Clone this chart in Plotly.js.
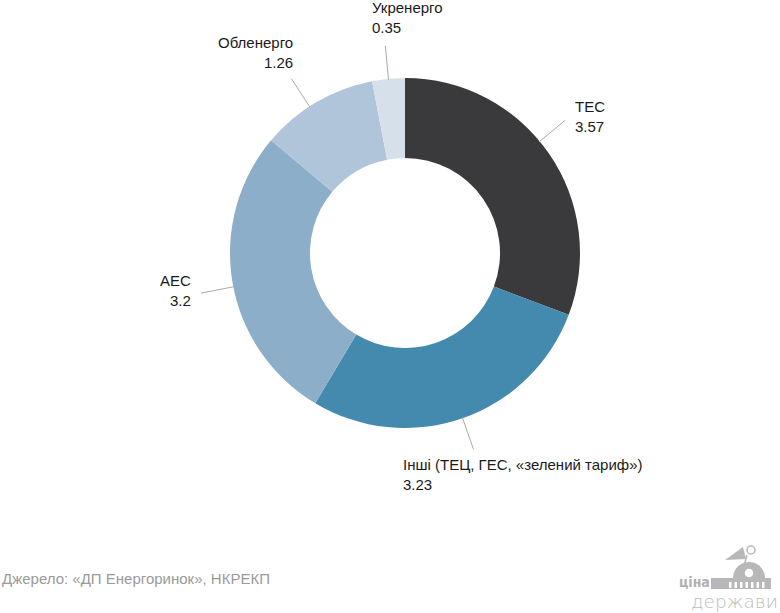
<!DOCTYPE html>
<html><head><meta charset="utf-8">
<script src="https://cdn.plot.ly/plotly-3.0.1.min.js"></script>
<style>html,body{margin:0;padding:0;background:#fff}</style>
</head><body><div id="chart" style="width:780px;height:613px"></div>
<script>
const labels = ["ТЕС", "Інші (ТЕЦ, ГЕС, «зелений тариф»)", "АЕС", "Обленерго", "Укренерго"];
const values = [3.57, 3.23, 3.2, 1.26, 0.35];
const colors = ["#3a3a3c", "#438aae", "#8daec8", "#b0c5d9", "#d5e0ea"];
const sourceText = "Джерело: «ДП Енергоринок», НКРЕКП";

const W = 780, H = 613;
const cx = 405, cy = 253, R = 175, holeFrac = 0.543;
const px = x => x / W, py = y => 1 - y / H;

// label layout (styling only)
const nudge = [-5, 0, -1.6, -2.7, 0];
const place = [
  {xa: "left", ya: "middle", dx: 8, dy: -4, align: "left"},
  {xa: "left", ya: "top", dx: -72, dy: 5, align: "left"},
  {xa: "right", ya: "middle", dx: -8, dy: -3, align: "right"},
  {xa: "right", ya: "bottom", dx: 4, dy: -6, align: "right"},
  {xa: "left", ya: "bottom", dx: -15, dy: -8, align: "left"}
];

const total = values.reduce((a, b) => a + b, 0);
const shapes = [], annotations = [];
let cum = 0;
values.forEach((v, i) => {
  const mid = (cum + v / 2) / total * 360 + nudge[i];
  cum += v;
  const a = mid * Math.PI / 180;
  const r1 = R - 1, r2 = R + 33;
  const x1 = cx + r1 * Math.sin(a), y1 = cy - r1 * Math.cos(a);
  const x2 = cx + r2 * Math.sin(a), y2 = cy - r2 * Math.cos(a);
  shapes.push({type: "line", xref: "paper", yref: "paper", x0: px(x1), y0: py(y1), x1: px(x2), y1: py(y2),
    line: {color: "#aaaaaa", width: 1}});
  const p = place[i];
  annotations.push({xref: "paper", yref: "paper", x: px(x2 + p.dx), y: py(y2 + p.dy),
    xanchor: p.xa, yanchor: p.ya, align: p.align, showarrow: false,
    text: labels[i] + "<br>" + values[i],
    font: {family: "Liberation Sans, Arial, sans-serif", size: 15, color: "#1a1a1a"}});
});

annotations.push({xref: "paper", yref: "paper", x: px(0), y: py(578), xanchor: "left", yanchor: "middle",
  showarrow: false, text: sourceText,
  font: {family: "Liberation Sans, Arial, sans-serif", size: 15, color: "#9a9a9a"}});

// logo "ціна держави"
annotations.push({xref: "paper", yref: "paper", x: px(677), y: py(582), xanchor: "left", yanchor: "middle",
  showarrow: false, text: "<b>ціна</b>",
  font: {family: "Liberation Sans Narrow, DejaVu Sans Condensed, Arial Narrow, sans-serif", size: 14, color: "#b0b0b0"}});
annotations.push({xref: "paper", yref: "paper", x: px(689), y: py(601), xanchor: "left", yanchor: "middle",
  showarrow: false, text: "держави",
  font: {family: "DejaVu Sans, sans-serif", weight: 200, size: 18.5, color: "#bcbcbc"}});
function path(pts) { return "M" + pts.map(p => px(p[0]) + "," + py(p[1])).join("L") + "Z"; }
const logoC = "#b8b8b8";
// building base
shapes.push({type: "path", xref: "paper", yref: "paper", path: path([[711,578],[771,578],[771,589],[711,589]]), fillcolor: logoC, line: {width: 0}});
for (let k = 0; k < 7; k++) {
  const x = 729 + k * 5.5;
  shapes.push({type: "rect", xref: "paper", yref: "paper", x0: px(x), x1: px(x + 2.5), y0: py(588), y1: py(582), fillcolor: "#fff", line: {width: 0}});
}
// dome
const dome = [];
for (let t = 0; t <= 24; t++) { const ang = Math.PI * t / 24; dome.push([749 - 16 * Math.cos(ang), 578 - 16 * Math.sin(ang)]); }
shapes.push({type: "path", xref: "paper", yref: "paper", path: path(dome), fillcolor: logoC, line: {width: 0}});
shapes.push({type: "circle", xref: "paper", yref: "paper", x0: px(744), x1: px(754), y0: py(578), y1: py(568), fillcolor: "#fff", line: {color: logoC, width: 1.5}});
// speaker / megaphone
shapes.push({type: "path", xref: "paper", yref: "paper", path: path([[725,560],[743,547],[746,559]]), fillcolor: logoC, line: {width: 0}});
shapes.push({type: "circle", xref: "paper", yref: "paper", x0: px(747), x1: px(755), y0: py(554), y1: py(546), fillcolor: "#fff", line: {color: logoC, width: 1.5}});
shapes.push({type: "line", xref: "paper", yref: "paper", x0: px(747), x1: px(744), y0: py(555), y1: py(566), line: {color: logoC, width: 1.5}});

const data = [{
  type: "pie", labels: labels, values: values, sort: false, direction: "clockwise", rotation: 0,
  hole: holeFrac, textinfo: "none", hoverinfo: "label+value", showlegend: false,
  marker: {colors: colors, line: {width: 0}},
  domain: {x: [px(cx - R), px(cx + R)], y: [py(cy + R), py(cy - R)]}
}];
const layout = {
  width: W, height: H, margin: {l: 0, r: 0, t: 0, b: 0},
  paper_bgcolor: "#fff", plot_bgcolor: "#fff", showlegend: false,
  shapes: shapes, annotations: annotations
};
Plotly.newPlot("chart", data, layout, {displayModeBar: false, staticPlot: true});
</script></body></html>
